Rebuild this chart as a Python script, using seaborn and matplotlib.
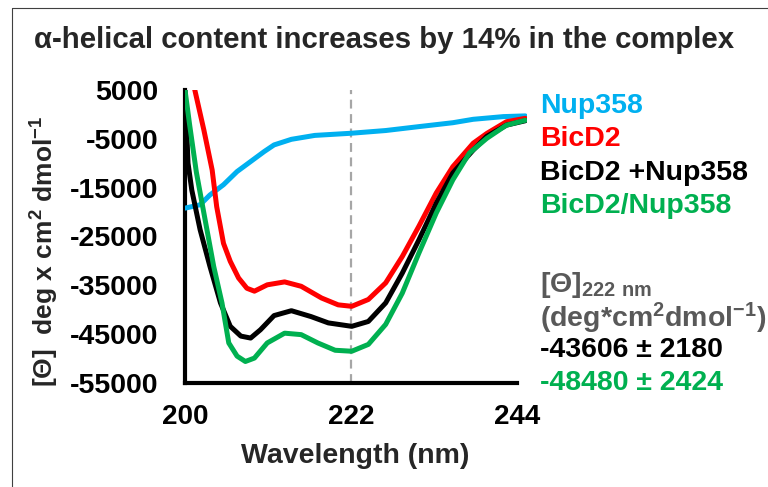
import pandas as pd
import seaborn as sns
import matplotlib.pyplot as plt
from matplotlib.lines import Line2D

# wavelength (nm) / mean residue ellipticity
nup_x = [200, 202.0, 203.3, 205.1, 206.9, 208.7, 210.5, 211.8, 214.1, 217.2, 222, 226.6, 231, 235.5, 238.2, 242.2, 245.1]
nup_y = [-19200, -18500, -16500, -14400, -11700, -9650, -7600, -6250, -5100, -4300, -3860, -3300, -2500, -1700, -1000, -450, -300]

bic_x = [200.8, 201.3, 202.5, 203.6, 204.2, 205.1, 206.0, 207.1, 208.2, 209.2, 210.9, 213.2, 215.4, 218.1, 220.3, 222.1,
         224.3, 226.6, 228.8, 231.0, 233.3, 235.5, 238.2, 240, 242.6, 245.1]
bic_y = [9000, 5000, -3200, -11400, -18900, -26400, -30100, -33500, -35600, -36200, -34900, -34300, -35200, -37600, -39000,
         -39300, -37900, -34500, -29100, -22900, -16100, -10700, -5900, -3900, -1500, -800]

mix_x = [200, 200.4, 200.9, 202.0, 203.3, 204.7, 206.0, 207.4, 208.7, 210.0, 211.8, 214.1, 216.7, 219.0, 222.1, 224.3,
         226.6, 228.8, 231.0, 233.3, 235.5, 238.2, 240, 242.6, 245.1]
mix_y = [5000, -10000, -15500, -23600, -31100, -38600, -43400, -45400, -45800, -44100, -41200, -40200, -41400, -42700,
         -43400, -42400, -38600, -32500, -25700, -18200, -12000, -7300, -4500, -2200, -1300]

cpx_x = [200, 200.6, 201.5, 202.5, 203.8, 204.9, 205.8, 206.9, 208.0, 209.2, 210.9, 213.2, 215.4, 217.6, 219.9, 222.1,
         224.3, 226.6, 228.8, 231.0, 233.3, 235.5, 237.7, 240, 242.6, 245.1]
cpx_y = [5000, -2000, -11800, -20200, -31100, -38600, -46800, -49500, -50600, -49900, -46800, -44800, -45100, -46800,
         -48300, -48500, -47100, -43000, -36600, -28400, -20200, -13400, -7900, -4900, -2200, -1200]

labels = ['Nup358', 'BicD2', 'BicD2 +Nup358', 'BicD2/Nup358']
colors = ['#00B0F0', '#FF0000', '#000000', '#00B050']

frames = []
for name, xs, ys in zip(labels, [nup_x, bic_x, mix_x, cpx_x], [nup_y, bic_y, mix_y, cpx_y]):
    frames.append(pd.DataFrame({'wl': xs, 'theta': ys, 'sample': name}))
df = pd.concat(frames, ignore_index=True)

sns.set_style('white')
plt.rcParams['font.family'] = ['Liberation Sans', 'DejaVu Sans']
plt.rcParams['mathtext.default'] = 'regular'

fig = plt.figure(figsize=(7.68, 4.87), dpi=100)
ax = fig.add_axes([0.2409, 0.2136, 0.445, 0.6016])

ax.axvline(222, color='#A6A6A6', lw=1.6, ls=(0, (4, 2.5)), zorder=1)
sns.lineplot(data=df, x='wl', y='theta', hue='sample', hue_order=labels, palette=dict(zip(labels, colors)),
             lw=3.6, legend=False, sort=False, ax=ax, zorder=3)

ax.set_xlim(200, 245.3)
ax.set_ylim(-55000, 5000)
ax.set_xticks([200, 222, 244])
ax.set_yticks(range(5000, -55001, -10000))
ax.set_xticklabels(['200', '222', '244'], fontweight='bold', fontsize=20)
ax.set_yticklabels([str(v) for v in range(5000, -55001, -10000)], fontweight='bold', fontsize=20.5)
for s in ['top', 'right']:
    ax.spines[s].set_visible(False)
for s in ['left', 'bottom']:
    ax.spines[s].set_linewidth(3)
    ax.spines[s].set_color('black')
ax.spines['bottom'].set_bounds(200, 244)
ax.tick_params(axis='x', direction='inout', length=10, width=3, pad=10, colors='black')
ax.tick_params(axis='y', direction='out', length=6, width=3, pad=13, colors='black')
ax.set_xlabel('Wavelength (nm)', fontsize=20.5, fontweight='bold', va='top')
ax.xaxis.set_label_coords(0.497, -0.205)
ax.set_ylabel(r'[$\Theta$]  deg x cm$^2$ dmol$^{-1}$', fontsize=19, fontweight='bold', va='center')
ax.yaxis.set_label_coords(-0.41, 0.45)

fig.text(0.5, 0.918, 'α-helical content increases by 14% in the complex', ha='center', va='center',
         fontsize=21.2, fontweight='bold')

ys_leg = [106, 139, 173, 206]
fs = 20.5
for lab, col, yy in zip(labels, colors, ys_leg):
    fig.text(540 / 768, 1 - yy / 487, lab, color=col, fontsize=fs, fontweight='bold', va='center', ha='left')

gray = '#595959'
fig.text(540 / 768, 1 - 285 / 487, r'[$\Theta$]$_{222\ nm}$', color=gray, fontsize=fs, fontweight='bold', va='center')
fig.text(540 / 768, 1 - 318 / 487, r'(deg*cm$^2$dmol$^{-1}$)', color=gray, fontsize=fs, fontweight='bold', va='center')
fig.text(540 / 768, 1 - 350 / 487, '-43606 ± 2180', color='black', fontsize=fs, fontweight='bold', va='center')
fig.text(540 / 768, 1 - 383 / 487, '-48480 ± 2424', color='#00B050', fontsize=fs, fontweight='bold', va='center')

# thin frame along top and left like the source panel
fig.add_artist(Line2D([12 / 768, 12 / 768], [0, 1 - 8 / 487], color='#404040', lw=0.8))
fig.add_artist(Line2D([12 / 768, 1], [1 - 8 / 487, 1 - 8 / 487], color='#404040', lw=0.8))

fig.savefig('out.png', dpi=100)
